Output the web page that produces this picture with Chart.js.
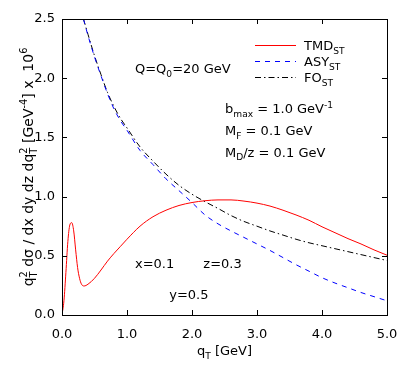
<!DOCTYPE html>
<html>
<head>
<meta charset="utf-8">
<script src="https://cdn.jsdelivr.net/npm/chart.js@4/dist/chart.umd.min.js"></script>
<style>
  html, body { margin: 0; padding: 0; background: #fff; overflow: hidden; }
  canvas { display: block; }
</style>
</head>
<body>
<canvas id="qtChart" width="407" height="370"></canvas>
<script>
// q_T grid for the TMD curve (GeV)
const qTmd = [0, 0.03, 0.06, 0.09, 0.12, 0.15, 0.18, 0.21, 0.24, 0.27, 0.30, 0.34, 0.40, 0.50,
    0.60, 0.70, 0.80, 0.90, 1.0, 1.2, 1.4, 1.6, 1.8, 2.0, 2.2, 2.4, 2.6, 2.8, 3.0, 3.2,
    3.4, 3.6, 3.8, 4.0, 4.2, 4.4, 4.6, 4.8, 5.0];
const tmdValues = [0, 0.12, 0.36, 0.62, 0.76, 0.78, 0.71, 0.55, 0.40, 0.31, 0.26, 0.245, 0.26, 0.31,
    0.38, 0.455, 0.52, 0.58, 0.64, 0.75, 0.83, 0.885, 0.925, 0.95, 0.965, 0.972, 0.972, 0.962, 0.945, 0.92,
    0.885, 0.845, 0.80, 0.745, 0.695, 0.645, 0.60, 0.55, 0.505];

// q_T grid for the asymptotic and fixed order curves
const qPert = [0.33, 0.4, 0.5, 0.6, 0.7, 0.8, 0.9, 1.0, 1.2, 1.4, 1.6, 1.8, 2.0, 2.2, 2.4, 2.6,
    2.8, 3.0, 3.2, 3.4, 3.6, 3.8, 4.0, 4.2, 4.4, 4.6, 4.8, 5.0];
const asyValues = [2.5, 2.36, 2.18, 2.02, 1.87, 1.74, 1.64, 1.56, 1.39, 1.27, 1.15, 1.05, 0.95, 0.845, 0.77, 0.71,
    0.655, 0.60, 0.545, 0.485, 0.425, 0.37, 0.315, 0.27, 0.23, 0.19, 0.155, 0.12];
const foValues = [2.5, 2.37, 2.19, 2.03, 1.88, 1.76, 1.66, 1.58, 1.42, 1.30, 1.19, 1.095, 1.02, 0.957, 0.90, 0.84,
    0.79, 0.75, 0.71, 0.675, 0.64, 0.61, 0.585, 0.56, 0.535, 0.51, 0.485, 0.46];

const xTicks = [0, 1, 2, 3, 4, 5];
const yTicks = [0, 0.5, 1.0, 1.5, 2.0, 2.5];

const seriesNames = ['TMD', 'ASY', 'FO'];
const seriesColors = ['#ff0000', '#0000ff', '#000000'];
const seriesDash = [[], [5, 5], [6, 3, 1.5, 3]];

const FONT = '"DejaVu Sans", sans-serif';

function toPoints(xs, ys) {
    return xs.map((x, i) => ({ x: x, y: ys[i] }));
}

// draws text with sub/superscripts: parts = [[text, mode]], mode n | b (sub) | p (sup) | s (stacked [sub, sup])
function drawRich(ctx, x, y, parts, size) {
    let cx = x;
    parts.forEach(([txt, mode]) => {
        if (mode === 'n') {
            ctx.font = size + 'px ' + FONT;
            ctx.fillText(txt, cx, y);
            cx += ctx.measureText(txt).width;
        } else if (mode === 'b' || mode === 'p') {
            const s = size * 0.7;
            ctx.font = s + 'px ' + FONT;
            const dy = mode === 'b' ? size * 0.28 : -size * 0.42;
            ctx.fillText(txt, cx, y + dy);
            cx += ctx.measureText(txt).width;
        } else if (mode === 's') {
            const s = size * 0.7;
            ctx.font = s + 'px ' + FONT;
            ctx.fillText(txt[0], cx, y + size * 0.28);
            ctx.fillText(txt[1], cx, y - size * 0.42);
            cx += Math.max(ctx.measureText(txt[0]).width, ctx.measureText(txt[1]).width);
        }
    });
    return cx - x;
}

function richWidth(ctx, parts, size) {
    let w = 0;
    parts.forEach(([txt, mode]) => {
        if (mode === 'n') {
            ctx.font = size + 'px ' + FONT;
            w += ctx.measureText(txt).width;
        } else if (mode === 's') {
            ctx.font = (size * 0.7) + 'px ' + FONT;
            w += Math.max(ctx.measureText(txt[0]).width, ctx.measureText(txt[1]).width);
        } else {
            ctx.font = (size * 0.7) + 'px ' + FONT;
            w += ctx.measureText(txt).width;
        }
    });
    return w;
}

const framePlugin = {
    id: 'frame',
    afterDatasetsDraw(chart) {
        const { ctx, chartArea: a, scales: { x, y } } = chart;
        ctx.save();
        ctx.strokeStyle = '#000';
        ctx.lineWidth = 1;
        ctx.strokeRect(Math.round(a.left) + 0.5, Math.round(a.top) + 0.5,
            Math.round(a.right - a.left), Math.round(a.bottom - a.top));
        // inward ticks on all four sides
        const len = 5;
        ctx.beginPath();
        xTicks.forEach(v => {
            const px = Math.round(x.getPixelForValue(v)) + 0.5;
            ctx.moveTo(px, a.bottom); ctx.lineTo(px, a.bottom - len);
            ctx.moveTo(px, a.top); ctx.lineTo(px, a.top + len);
        });
        yTicks.forEach(v => {
            const py = Math.round(y.getPixelForValue(v)) + 0.5;
            ctx.moveTo(a.left, py); ctx.lineTo(a.left + len, py);
            ctx.moveTo(a.right, py); ctx.lineTo(a.right - len, py);
        });
        ctx.stroke();
        ctx.restore();
    },
    afterDraw(chart) {
        const { ctx, chartArea: a, scales: { x, y } } = chart;
        const size = 13;
        ctx.save();
        ctx.fillStyle = '#000';
        ctx.textBaseline = 'alphabetic';
        ctx.textAlign = 'left';

        // legend
        seriesNames.forEach((name, i) => {
            const ly = 45 + i * 16;
            ctx.save();
            ctx.strokeStyle = seriesColors[i];
            ctx.lineWidth = 1;
            ctx.setLineDash(seriesDash[i]);
            ctx.beginPath();
            ctx.moveTo(255, ly + 0.5);
            ctx.lineTo(296, ly + 0.5);
            ctx.stroke();
            ctx.restore();
            ctx.fillStyle = '#000';
            drawRich(ctx, 304, ly + 5, [[name, 'n'], ['ST', 'b']], size);
        });

        // annotations
        const notes = [
            [1.123, 2.044, [['Q=Q', 'n'], ['0', 'b'], ['=20 GeV', 'n']]],
            [2.508, 1.704, [['b', 'n'], ['max', 'b'], [' = 1.0 GeV', 'n'], ['-1', 'p']]],
            [2.508, 1.520, [['M', 'n'], ['F', 'b'], [' = 0.1 GeV', 'n']]],
            [2.508, 1.337, [['M', 'n'], ['D', 'b'], ['/z = 0.1 GeV', 'n']]],
            [1.123, 0.394, [['x=0.1', 'n']]],
            [2.174, 0.394, [['z=0.3', 'n']]],
            [1.650, 0.135, [['y=0.5', 'n']]]
        ];
        notes.forEach(([qx, vy, parts]) => {
            drawRich(ctx, x.getPixelForValue(qx), y.getPixelForValue(vy), parts, size);
        });

        // x axis title
        const xt = [['q', 'n'], ['T', 'b'], [' [GeV]', 'n']];
        const xw = richWidth(ctx, xt, size);
        drawRich(ctx, (a.left + a.right) / 2 - xw / 2, 355, xt, size);

        // y axis title
        const ySize = 14;
        const yt = [['q', 'n'], [['T', '2'], 's'], [' d\u03c3 / dx dy dz dq', 'n'], [['T', '2'], 's'],
            [' [GeV', 'n'], ['-4', 'p'], ['] x  10', 'n'], ['6', 'p']];
        const yw = richWidth(ctx, yt, ySize);
        ctx.translate(33, (a.top + a.bottom) / 2);
        ctx.rotate(-Math.PI / 2);
        drawRich(ctx, -yw / 2, 0, yt, ySize);
        ctx.restore();
    }
};

const ctx = document.getElementById('qtChart').getContext('2d');
new Chart(ctx, {
    type: 'line',
    data: {
        datasets: seriesNames.map((name, i) => ({
            label: name,
            data: i === 0 ? toPoints(qTmd, tmdValues) : toPoints(qPert, i === 1 ? asyValues : foValues),
            borderColor: seriesColors[i],
            borderWidth: 1,
            borderDash: seriesDash[i],
            pointRadius: 0,
            cubicInterpolationMode: 'monotone',
            fill: false
        }))
    },
    options: {
        responsive: false,
        animation: false,
        devicePixelRatio: 1,
        layout: { padding: { left: 0, top: 19, right: 20, bottom: 0 } },
        plugins: {
            legend: { display: false },
            tooltip: { enabled: false }
        },
        scales: {
            x: {
                type: 'linear',
                min: 0,
                max: 5,
                afterBuildTicks: (scale) => { scale.ticks = xTicks.map(v => ({ value: v })); },
                afterFit: (scale) => {
                    scale.height = 55;
                    scale.paddingLeft = 0;
                    scale.paddingRight = 0;
                },
                grid: { display: false, drawTicks: false },
                border: { display: false },
                ticks: {
                    color: '#000',
                    padding: 12,
                    maxRotation: 0,
                    font: { family: FONT, size: 13 },
                    callback: (v) => Number(v).toFixed(1)
                }
            },
            y: {
                type: 'linear',
                min: 0,
                max: 2.5,
                afterBuildTicks: (scale) => { scale.ticks = yTicks.map(v => ({ value: v })); },
                afterFit: (scale) => {
                    scale.width = 62;
                    scale.paddingTop = 0;
                    scale.paddingBottom = 0;
                },
                grid: { display: false, drawTicks: false },
                border: { display: false },
                ticks: {
                    color: '#000',
                    padding: 7,
                    font: { family: FONT, size: 13 },
                    callback: (v) => Number(v).toFixed(1)
                }
            }
        }
    },
    plugins: [framePlugin]
});
</script>
</body>
</html>
